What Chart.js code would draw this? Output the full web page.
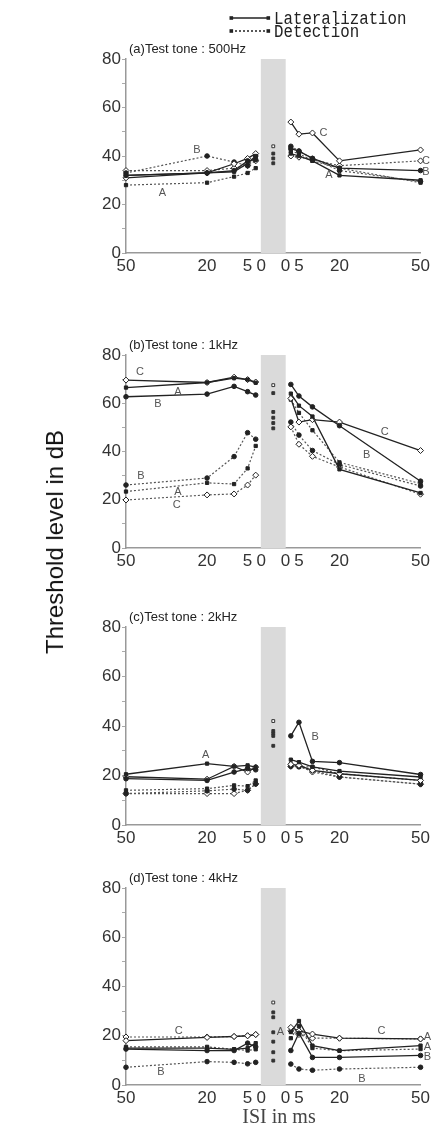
<!DOCTYPE html>
<html lang="en">
<head>
    <meta charset="UTF-8">
    <title>Threshold level vs ISI</title>
    <script src="https://cdn.jsdelivr.net/npm/chart.js"></script>
    <style>
        body { margin: 0; background: #fff; }
        .page { position: relative; width: 433px; height: 1124px; overflow: hidden; }
        .panel { position: absolute; left: 0; width: 433px; }
        .ytitle {
            position: absolute; left: 55px; top: 542px;
            transform: translate(-50%, -50%) rotate(-90deg);
            font: 24px "Liberation Sans", Arial, sans-serif; color: #111; white-space: nowrap;
        }
        .xtitle {
            position: absolute; left: 279px; top: 1116px;
            transform: translate(-50%, -50%);
            font: 20px "Liberation Serif", serif; color: #444; white-space: nowrap;
        }
    </style>
</head>
<body>
<div class="page">
    <div class="panel" style="top:0px;height:277px"><canvas id="chartA"></canvas></div>
    <div class="panel" style="top:325px;height:247px"><canvas id="chartB"></canvas></div>
    <div class="panel" style="top:597px;height:252px"><canvas id="chartC"></canvas></div>
    <div class="panel" style="top:858px;height:251px"><canvas id="chartD"></canvas></div>
    <div class="ytitle">Threshold level in dB</div>
    <div class="xtitle">ISI in ms</div>
</div>
<script>
// ISI in ms; negative = left half of the axis (read 50 .. 0), positive = right half (0 .. 50)
const isi = [-50, -20, -10, -5, -2, 2, 5, 10, 20, 50];
const tickIsi = [-50, -20, -5, 0, 0, 5, 20, 50];
const tickSide = [-1, -1, -1, -1, 1, 1, 1, 1];
const GAP = 4.5;        // half width of the simultaneous region, in axis units
const BAND_HALF = 4.6;  // grey band

// (a) 500 Hz
const a_latA = [32, 33, 33.5, 37, 40, 41, 40, 38, 32, 30];
const a_latB = [32, 33, 34, 38, 38.5, 43, 42, 39, 35, 34];
const a_latC = [31, 33, 36.8, 39, 41, 54, 49, 49.5, 38, 42.5];
const a_detA = [28, 29, 31.5, 33, 35, 42, 41, 38, 35, 29];
const a_detB = [33, 40, 37.5, 36, 40, 44, 42, 39, 34, 29.5];
const a_detC = [34, 34, 35, 36, 38, 40, 39.5, 38.5, 36, 38];
const a_mid = [44, 41, 39, 37];
const a_noteText = ['B', 'A', 'C', 'A', 'C', 'B'];
const a_noteX = [-28.3, -41, 18.6, 20.6, 56.5, 56.5];
const a_noteY = [42.5, 24.7, 49.5, 32, 38, 33.4];

// (b) 1 kHz
const b_latA = [66.5, 68.6, 70.4, 69.8, 68.5, 64, 59, 54.5, 32.6, 22.8];
const b_latB = [62.7, 63.8, 67, 64.8, 63.4, 67.8, 63, 58.5, 50.7, 27.7];
const b_latC = [69.6, 68.6, 70.8, 69.8, 68.8, 62, 52.2, 53.2, 52.2, 40.4];
const b_detA = [23.4, 27, 26.5, 33, 42.3, 61.5, 56, 48.8, 35.5, 26.7];
const b_detB = [26.1, 29, 37.9, 47.8, 45.1, 52.2, 46.8, 40.4, 34.6, 25.7];
const b_detC = [19.9, 22, 22.4, 26.1, 30.2, 50.2, 43, 38, 33.6, 22.3];
const b_mid = [67.5, 64.2, 56.4, 54, 51.8, 49.6];
const b_noteText = ['C', 'A', 'B', 'B', 'A', 'C', 'C', 'B'];
const b_noteX = [-49.3, -35.3, -42.7, -49, -35.3, -35.7, 41.2, 34.6];
const b_noteY = [72.9, 64.7, 59.9, 29.8, 23.3, 17.8, 48.1, 38.5];

// (c) 2 kHz
const c_latA = [20.5, 24.8, 23.7, 24.1, 23.4, 26.4, 25.4, 23.5, 21.8, 19.4];
const c_latB = [18.7, 18, 21.4, 22.8, 22.3, 36, 41.5, 25.7, 25.2, 20.4];
const c_latC = [19.5, 18.5, 23.7, 21.4, 23.4, 24.5, 24.1, 22.1, 20.7, 18];
const c_detA = [14, 14.7, 16, 15.7, 18, 24.5, 23.5, 23.5, 20.7, 18];
const c_detB = [12.7, 13.8, 14.5, 14, 16.6, 23.7, 23.5, 22, 19.4, 16.5];
const c_detC = [12.7, 12.7, 12.7, 14, 16.6, 23.7, 24, 21.4, 19.4, 16.5];
const c_mid = [42, 38, 37, 36, 32];
const c_noteText = ['A', 'B'];
const c_noteX = [-25, 15.5];
const c_noteY = [28.1, 35.5];

// (d) 4 kHz
const d_latA = [15, 15, 14.5, 15, 17, 21.5, 26, 16, 14, 16];
const d_latB = [14.6, 14, 14, 17, 15.5, 14, 21, 11.2, 11.2, 12];
const d_latC = [18, 19.3, 19.7, 20, 20.5, 23.4, 22, 20.7, 19, 18.7];
const d_detA = [15.5, 15.5, 14.5, 14, 14.5, 19, 24, 15, 13.9, 14.6];
const d_detB = [7.2, 9.5, 9.2, 8.6, 9.2, 8.5, 6.5, 6, 6.5, 7.2];
const d_detC = [19.5, 19.5, 19.7, 20, 20.5, 22, 20.5, 19, 19, 18.7];
const d_mid = [33.5, 29.5, 27.5, 21.4, 17.6, 13.3, 9.9];
const d_noteText = ['C', 'B', 'A', 'C', 'B', 'A', 'A', 'B'];
const d_noteX = [-35, -41.6, 2.6, 40, 32.8, 57, 57, 57];
const d_noteY = [22, 5.1, 21.4, 22, 2.4, 19.5, 15.4, 11.4];

function axisPos(t) {
    return t < 0 ? t - GAP : t + GAP;
}

function series(vals) {
    const pts = [];
    isi.forEach(function (t, i) {
        if (i === 5) pts.push({ x: 0, y: null }); // break between the two halves
        pts.push({ x: axisPos(t), y: vals[i] });
    });
    return pts;
}

const shapes = ['rect', 'circle', 'rectRot'];
const fills = ['#222', '#222', '#fff'];

function lineSet(vals, subj, dashed) {
    return {
        data: series(vals),
        borderColor: dashed ? '#555' : '#222',
        borderWidth: dashed ? 1.2 : 1.3,
        borderDash: dashed ? [2, 2] : [],
        pointStyle: shapes[subj],
        pointRadius: subj === 2 ? 3 : 2.3,
        pointBackgroundColor: fills[subj],
        pointBorderColor: '#222',
        pointBorderWidth: 1,
        spanGaps: false,
        tension: 0,
        clip: false
    };
}

const bandPlugin = {
    id: 'band',
    beforeDatasetsDraw(chart) {
        const x = chart.scales.x, y = chart.scales.y, ctx = chart.ctx;
        const x0 = x.getPixelForValue(-BAND_HALF), x1 = x.getPixelForValue(BAND_HALF);
        const y0 = y.getPixelForValue(80), y1 = y.getPixelForValue(0);
        ctx.save();
        ctx.fillStyle = '#dadada';
        ctx.fillRect(x0, y0, x1 - x0, y1 - y0);
        ctx.restore();
    }
};

const notePlugin = {
    id: 'notes',
    afterDatasetsDraw(chart, args, opts) {
        const x = chart.scales.x, y = chart.scales.y, ctx = chart.ctx;
        const area = chart.chartArea;
        ctx.save();
        ctx.fillStyle = '#222';
        ctx.font = '13px "Liberation Sans", Arial, sans-serif';
        ctx.textBaseline = 'middle';
        ctx.textAlign = 'left';
        ctx.fillText(opts.title, area.left + 3, area.top - 10);
        ctx.fillStyle = '#555';
        ctx.font = '11px "Liberation Sans", Arial, sans-serif';
        ctx.textAlign = 'center';
        opts.text.forEach(function (t, i) {
            ctx.fillText(t, x.getPixelForValue(opts.xs[i]), y.getPixelForValue(opts.ys[i]));
        });
        ctx.restore();
    }
};

// legend of the whole figure, drawn on the top panel
const legendPlugin = {
    id: 'figLegend',
    afterDraw(chart) {
        const ctx = chart.ctx;
        const rows = [['Lateralization', 18, []], ['Detection', 31, [2, 2]]];
        ctx.save();
        rows.forEach(function (r) {
            ctx.strokeStyle = '#222';
            ctx.lineWidth = 1.3;
            ctx.setLineDash(r[2]);
            ctx.beginPath();
            ctx.moveTo(231, r[1]);
            ctx.lineTo(268, r[1]);
            ctx.stroke();
            ctx.setLineDash([]);
            ctx.fillStyle = '#222';
            ctx.fillRect(229.5, r[1] - 1.8, 3.6, 3.6);
            ctx.fillRect(266.5, r[1] - 1.8, 3.6, 3.6);
            ctx.save();
            ctx.translate(274, r[1]);
            ctx.scale(0.83, 1);
            ctx.font = '19px "Liberation Mono", "DejaVu Sans Mono", monospace';
            ctx.textBaseline = 'middle';
            ctx.fillText(r[0], 0, 1);
            ctx.restore();
        });
        ctx.restore();
    }
};

function makePanel(id, padTop, title, sets, mid, noteText, noteX, noteY, extra) {
    const datasets = [];
    sets.forEach(function (vals, k) {
        datasets.push(lineSet(vals, k % 3, k >= 3));
    });
    datasets.push({
        data: mid.map(function (v) { return { x: 0, y: v }; }),
        showLine: false,
        pointStyle: 'rect',
        pointRadius: 2,
        pointBackgroundColor: mid.map(function (v, i) { return i === 0 ? '#fff' : '#333'; }),
        pointBorderColor: '#333',
        pointBorderWidth: 1,
        clip: false
    });
    return new Chart(document.getElementById(id), {
        type: 'line',
        data: { datasets: datasets },
        options: {
            responsive: true,
            maintainAspectRatio: false,
            animation: false,
            layout: { padding: { top: padTop, right: 11, left: 0, bottom: 0 } },
            plugins: {
                legend: { display: false },
                tooltip: { enabled: false },
                notes: { title: title, text: noteText, xs: noteX, ys: noteY }
            },
            scales: {
                x: {
                    type: 'linear',
                    min: -50 - GAP,
                    max: 50 + GAP,
                    afterFit: function (s) { s.height = 24; },
                    afterBuildTicks: function (s) {
                        s.ticks = tickIsi.map(function (t, i) {
                            return { value: tickSide[i] < 0 ? t - GAP : t + GAP };
                        });
                    },
                    grid: { display: false, drawTicks: false },
                    border: { display: true, color: '#999', width: 1.5 },
                    ticks: {
                        autoSkip: false,
                        maxRotation: 0,
                        padding: 3,
                        color: '#333',
                        font: { family: '"Liberation Sans", Arial, sans-serif', size: 17 },
                        callback: function (v, i) { return String(Math.abs(tickIsi[i])); }
                    }
                },
                y: {
                    min: 0,
                    max: 80,
                    afterFit: function (s) { s.width = 126; },
                    grid: { drawOnChartArea: false, tickLength: 4, color: '#aaa' },
                    border: { display: true, color: '#999', width: 1.5 },
                    ticks: {
                        stepSize: 10,
                        padding: 1,
                        color: '#333',
                        font: { family: '"Liberation Sans", Arial, sans-serif', size: 17 },
                        callback: function (v) { return v % 20 === 0 ? v : ''; }
                    }
                }
            }
        },
        plugins: [bandPlugin, notePlugin].concat(extra || [])
    });
}

makePanel('chartA', 59, '(a)Test tone : 500Hz',
    [a_latA, a_latB, a_latC, a_detA, a_detB, a_detC], a_mid, a_noteText, a_noteX, a_noteY, [legendPlugin]);
makePanel('chartB', 30, '(b)Test tone : 1kHz',
    [b_latA, b_latB, b_latC, b_detA, b_detB, b_detC], b_mid, b_noteText, b_noteX, b_noteY);
makePanel('chartC', 30, '(c)Test tone : 2kHz',
    [c_latA, c_latB, c_latC, c_detA, c_detB, c_detC], c_mid, c_noteText, c_noteX, c_noteY);
makePanel('chartD', 30, '(d)Test tone : 4kHz',
    [d_latA, d_latB, d_latC, d_detA, d_detB, d_detC], d_mid, d_noteText, d_noteX, d_noteY);
</script>
</body>
</html>
